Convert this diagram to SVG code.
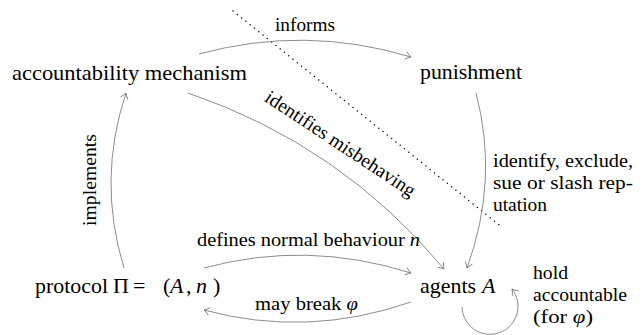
<svg xmlns="http://www.w3.org/2000/svg" width="643" height="335" viewBox="0 0 643 335">
<defs>
  <marker id="arr" markerUnits="userSpaceOnUse" viewBox="-7 -5 9 10" refX="0" refY="0" markerWidth="9" markerHeight="10" orient="auto">
    <path d="M-5.5,-3.8 Q-2,-0.9 0,0 Q-2,0.9 -5.5,3.8" fill="none" stroke="#7f7f7f" stroke-width="0.9"/>
  </marker>
</defs>
<rect width="643" height="335" fill="#fff"/>
<g id="separator">
  <path d="M233,11 L503,228" fill="none" stroke="#000" stroke-width="1.5" stroke-linecap="round" stroke-dasharray="0 5.5"/>
</g>
<g id="connectors" fill="none" stroke="#7f7f7f" stroke-width="0.9" marker-end="url(#arr)">
  <path d="M199,54 Q305,25 411,57"/>
  <path d="M188,93 Q341,145 444,269"/>
  <path d="M124,268 Q97,180 126,93"/>
  <path d="M476,93 Q499,180 467,268"/>
  <path d="M204,268 Q307,240 411,273"/>
  <path d="M411,302 Q307,338 204,310"/>
  <path d="M462,307 A28,28 0 1 0 512,289"/>
</g>
<g id="edge-labels">
  <text font-family="Liberation Serif" font-size="19.5" x="275" y="31" textLength="60" lengthAdjust="spacingAndGlyphs">informs</text>
  <text font-family="Liberation Serif" font-size="19.5" text-anchor="middle" transform="translate(337,149) rotate(33.5)" textLength="176" lengthAdjust="spacingAndGlyphs">identifies misbehaving</text>
  <text font-family="Liberation Serif" font-size="19.5" text-anchor="middle" transform="translate(96,180) rotate(-90)" textLength="92" lengthAdjust="spacingAndGlyphs">implements</text>
  <text font-family="Liberation Serif" font-size="19.5" x="493" y="167" textLength="140" lengthAdjust="spacingAndGlyphs">identify, exclude,</text>
  <text font-family="Liberation Serif" font-size="19.5" x="493" y="189" textLength="140" lengthAdjust="spacingAndGlyphs">sue or slash rep-</text>
  <text font-family="Liberation Serif" font-size="19.5" x="493" y="211" textLength="54" lengthAdjust="spacingAndGlyphs">utation</text>
  <text font-family="Liberation Serif" font-size="19.5" x="197" y="246" textLength="223" lengthAdjust="spacingAndGlyphs">defines normal behaviour <tspan font-style="italic">n</tspan></text>
  <text font-family="Liberation Serif" font-size="19.5" x="255" y="310" textLength="103" lengthAdjust="spacingAndGlyphs">may break <tspan font-style="italic">&#x3C6;</tspan></text>
  <text font-family="Liberation Serif" font-size="19.5" x="533" y="279" textLength="35" lengthAdjust="spacingAndGlyphs">hold</text>
  <text font-family="Liberation Serif" font-size="19.5" x="533" y="301" textLength="94" lengthAdjust="spacingAndGlyphs">accountable</text>
  <text font-family="Liberation Serif" font-size="19.5" x="533" y="323" textLength="60" lengthAdjust="spacingAndGlyphs">(for <tspan font-style="italic">&#x3C6;</tspan>)</text>
</g>
<g id="node-accountability">
  <text font-family="Liberation Serif" font-size="22" x="12" y="80" textLength="235" lengthAdjust="spacingAndGlyphs">accountability mechanism</text>
</g>
<g id="node-punishment">
  <text font-family="Liberation Serif" font-size="22" x="420" y="79" textLength="102" lengthAdjust="spacingAndGlyphs">punishment</text>
</g>
<g id="node-protocol">
  <text font-family="Liberation Serif" font-size="22" x="35" y="293" textLength="73" lengthAdjust="spacingAndGlyphs">protocol</text>
  <text font-family="Liberation Serif" font-size="22" y="293"><tspan x="113">&#x3A0;</tspan><tspan x="133">=</tspan><tspan x="163">(</tspan><tspan font-style="italic" x="170">A</tspan><tspan x="186">,</tspan><tspan font-style="italic" x="196">n</tspan><tspan x="213">)</tspan></text>
</g>
<g id="node-agents">
  <text font-family="Liberation Serif" font-size="22" x="420" y="293" textLength="56" lengthAdjust="spacingAndGlyphs">agents</text>
  <text font-family="Liberation Serif" font-size="22" x="482" y="293" font-style="italic">A</text>
</g>
</svg>
